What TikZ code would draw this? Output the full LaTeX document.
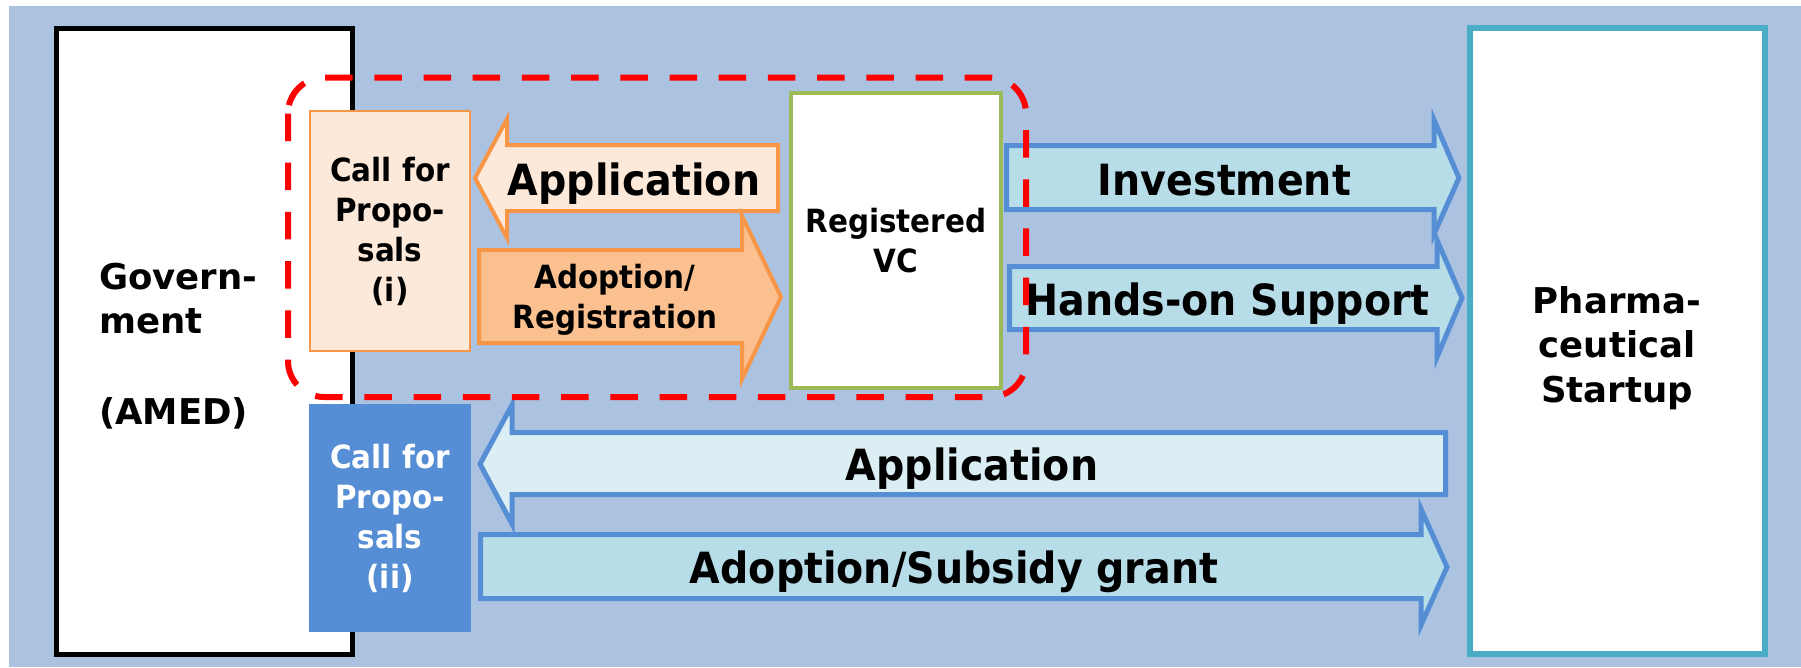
\documentclass[tikz,border=0pt]{standalone}
\usepackage{fontspec}
\setmainfont{DejaVu Sans}
\newfontfamily\narrowfont{DejaVu Sans}[FakeStretch=0.92]
\usepackage{tikz}

\definecolor{bgblue}{RGB}{171,194,225}
\definecolor{flowblue}{RGB}{85,142,213}
\definecolor{flowfill}{RGB}{183,221,232}
\definecolor{flowpale}{RGB}{219,238,244}
\definecolor{orangeline}{RGB}{247,150,70}
\definecolor{peach}{RGB}{253,233,217}
\definecolor{apricot}{RGB}{250,192,144}
\definecolor{vcgreen}{RGB}{155,187,89}
\definecolor{startupcyan}{RGB}{75,172,198}

\begin{document}
\begin{tikzpicture}[x=1pt,y=-1pt,
		big/.style={font=\narrowfont\bfseries\fontsize{43}{48}\selectfont, inner sep=0pt, anchor=base},
		mid/.style={font=\narrowfont\bfseries\fontsize{32}{40}\selectfont, align=center, inner sep=0pt},
		side/.style={font=\bfseries\fontsize{35.5}{44.5}\selectfont, inner sep=0pt},
		orangearrow/.style={draw=orangeline, line width=4pt},
		bluearrow/.style={draw=flowblue, line width=5pt, fill=flowfill}]
		
		\useasboundingbox (0,0) rectangle (1801,667);
		\fill[bgblue] (9,6) rectangle (1801,667);
		
		% the two actors
		\node[draw=black, line width=5.5pt, fill=white, minimum width=296pt, minimum height=626pt, inner sep=0pt] (gov) at (204.5,341.5) {};
		\node[side, anchor=west, align=left] (govtext) at (99,346) {Govern-\\ment\\[46pt](AMED)};
		\node[draw=startupcyan, line width=5.5pt, fill=white, minimum width=295pt, minimum height=626pt, inner sep=0pt] (pharma) at (1617.5,341) {};
		\node[side, align=center] (pharmatext) at (1617,348) {Pharma-\\ceutical\\Startup};
		
		% calls for proposals
		\node[mid, draw=orangeline, line width=2.5pt, fill=peach, minimum width=160pt, minimum height=240pt] (call1) at (390,231) {Call for\\Propo-\\sals\\(i)};
		\node[mid, fill=flowblue, text=white, minimum width=162pt, minimum height=228pt] (call2) at (390,518) {Call for\\Propo-\\sals\\(ii)};
		
		% route (i) through the VC
		\draw[orangearrow, fill=peach] (475,178) -- (507,119) -- (507,145) -- (778,145) -- (778,211) -- (507,211) -- (507,238) -- cycle;
		\node[big] (app1) at (634,195) {Application};
		\draw[orangearrow, fill=apricot] (479,250) -- (742,250) -- (742,216) -- (781,297) -- (742,379) -- (742,343) -- (479,343) -- cycle;
		\node[mid] (adopt1) at (615,300) {Adoption/\\Registration};
		
		\node[mid, draw=vcgreen, line width=4pt, fill=white, minimum width=210pt, minimum height=295pt] (vc) at (896,240.5) {Registered\\VC};
		
		\draw[bluearrow] (1006.5,145.5) -- (1434,145.5) -- (1434,120) -- (1459,178) -- (1434,234) -- (1434,209.5) -- (1006.5,209.5) -- cycle;
		\node[big] (invest) at (1224.5,195) {Investment};
		\draw[bluearrow] (1009.5,266.5) -- (1437,266.5) -- (1437,240) -- (1462,298) -- (1437,357) -- (1437,329.5) -- (1009.5,329.5) -- cycle;
		\node[big] (handson) at (1227.5,315) {Hands-on Support};
		
		% route (ii) directly
		\draw[bluearrow, fill=flowpale] (480,464) -- (512,405) -- (512,432.5) -- (1445.5,432.5) -- (1445.5,494.5) -- (512,494.5) -- (512,524) -- cycle;
		\node[big] (app2) at (972,480) {Application};
		\draw[bluearrow] (480.5,534.5) -- (1421,534.5) -- (1421,509) -- (1447,567) -- (1421,625) -- (1421,598.5) -- (480.5,598.5) -- cycle;
		\node[big] (grant) at (954,583) {Adoption/Subsidy grant};
		
		\draw[red, line width=6pt, dash pattern=on 27.5pt off 21.7pt, rounded corners=36pt] (288,77.5) rectangle (1026,397);
		
	\end{tikzpicture}
\end{document}
